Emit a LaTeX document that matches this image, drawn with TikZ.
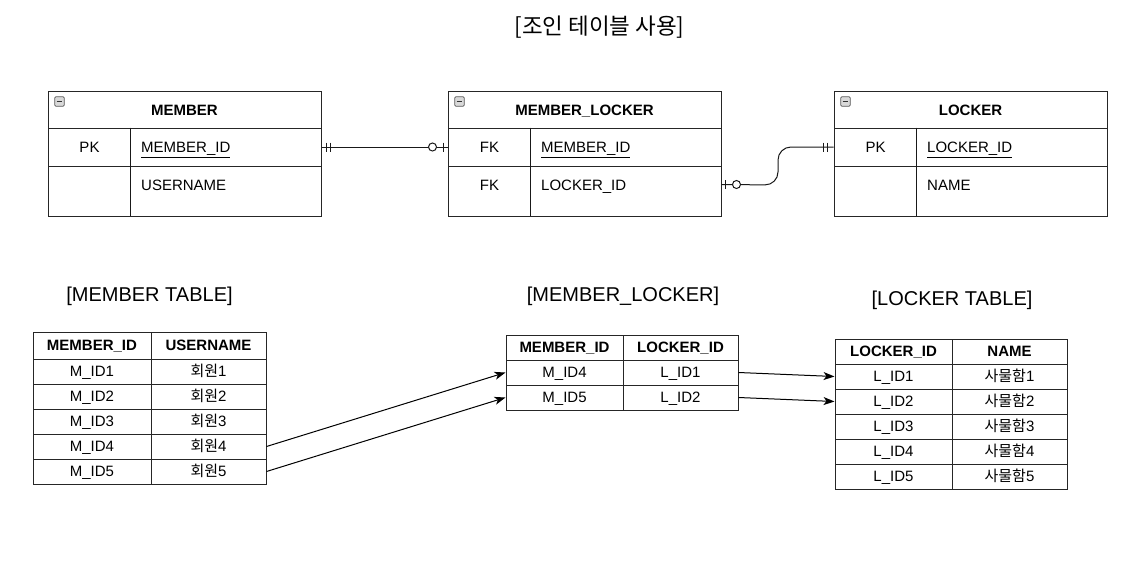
\documentclass[tikz,border=0pt]{standalone}
\usepackage{fontspec}
\setmainfont{Liberation Sans}
\newfontfamily\kr{Noto Sans CJK KR}
\usetikzlibrary{arrows.meta,calc}
\tikzset{
  erbox/.style={draw=black!85, line width=1pt, minimum width=273pt, inner sep=0pt},
  capc/.style={text height=12.7pt, text depth=2pt},
  ertxt/.style={inner sep=0pt, capc, font=\fontsize{15}{18}\selectfont},
  erhead/.style={inner sep=0pt, capc, font=\fontsize{15}{18}\selectfont\bfseries},
  cell/.style={draw=black!85, line width=1pt, inner sep=0pt, minimum height=25pt, capc, font=\fontsize{15}{18}\selectfont},
  hcell/.style={cell, font=\fontsize{15}{18}\selectfont\bfseries},
  ttl/.style={inner sep=0pt, text height=16.3pt, text depth=2pt, font=\fontsize{20}{24}\selectfont},
  conn/.style={draw=black!90, line width=1pt},
  mk/.style={draw=black!90, line width=1pt},
  ring/.style={draw=black!90, line width=1pt, fill=white},
  arr/.style={draw=black, line width=1pt, -{Stealth[length=11pt,width=8pt,inset=3pt]}},
  icon/.style={draw=gray!70!black, fill=gray!30, line width=0.7pt, rounded corners=1.2pt, minimum size=9.5pt, inner sep=0pt},
}
\begin{document}
\begin{tikzpicture}[x=1pt,y=-1pt]
\useasboundingbox (0,0) rectangle (1130,562);

% title
\node[inner sep=0pt, font=\fontsize{22.5}{26}\selectfont] (title) at (599.5,27) {\kr [조인 테이블 사용]};

% ---------- ER entities ----------
% MEMBER
\node[erbox, minimum height=37pt] (mh) at (184.5,109.5) {};
\node[erbox, minimum height=38pt] (mr1) at (184.5,147) {};
\node[erbox, minimum height=50pt] (mr2) at (184.5,191) {};
\draw[conn] (mr1.north west) ++(83,0) coordinate (mdv) -- ++(0,88);
\node[erhead] (mht) at (184.5,110) {MEMBER};
\node[icon] (mic) at (59.5,101.5) {};
\draw[gray!40!black, line width=1pt] ($(mic.center)+(-2.8,0)$) -- ($(mic.center)+(2.8,0)$);
\node[ertxt] (mpk) at (89.5,147) {PK};
\node[ertxt, anchor=west] (mid) at (141,147) {\underline{MEMBER\_ID}};
\node[ertxt, anchor=west] (mun) at (141,185) {USERNAME};

% MEMBER_LOCKER
\node[erbox, minimum height=37pt] (mlh) at (584.5,109.5) {};
\node[erbox, minimum height=38pt] (mlr1) at (584.5,147) {};
\node[erbox, minimum height=50pt] (mlr2) at (584.5,191) {};
\draw[conn] (mlr1.north west) ++(83,0) -- ++(0,88);
\node[erhead] (mlht) at (584.5,110) {MEMBER\_LOCKER};
\node[icon] (mlic) at (459.5,101.5) {};
\draw[gray!40!black, line width=1pt] ($(mlic.center)+(-2.8,0)$) -- ($(mlic.center)+(2.8,0)$);
\node[ertxt] (mlfk1) at (489.5,147) {FK};
\node[ertxt, anchor=west] (mlmid) at (541,147) {\underline{MEMBER\_ID}};
\node[ertxt] (mlfk2) at (489.5,185) {FK};
\node[ertxt, anchor=west] (mllid) at (541,185) {LOCKER\_ID};

% LOCKER
\node[erbox, minimum height=37pt] (lh) at (970.5,109.5) {};
\node[erbox, minimum height=38pt] (lr1) at (970.5,147) {};
\node[erbox, minimum height=50pt] (lr2) at (970.5,191) {};
\draw[conn] (lr1.north west) ++(83,0) -- ++(0,88);
\node[erhead] (lht) at (970.5,110) {LOCKER};
\node[icon] (lic) at (845.5,101.5) {};
\draw[gray!40!black, line width=1pt] ($(lic.center)+(-2.8,0)$) -- ($(lic.center)+(2.8,0)$);
\node[ertxt] (lpk) at (875.5,147) {PK};
\node[ertxt, anchor=west] (llid) at (927,147) {\underline{LOCKER\_ID}};
\node[ertxt, anchor=west] (lnm) at (927,185) {NAME};

% connector MEMBER -> MEMBER_LOCKER
\draw[conn] (mr1.east) -- (mlr1.west);
\draw[mk] ($(mr1.east)+(5,-4.5)$) -- ++(0,9);
\draw[mk] ($(mr1.east)+(9,-4.5)$) -- ++(0,9);
\draw[mk] ($(mlr1.west)+(-4,-4.5)$) -- ++(0,9);
\draw[ring] ($(mlr1.west)+(-15,0)$) circle (4);

% connector MEMBER_LOCKER -> LOCKER
\coordinate (mlr2e) at ($(mlr2.north east)+(0,19)$);
\draw[conn, rounded corners=13pt] (mlr2e) -- (778,185) -- (778,147) -- (lr1.west);
\draw[mk] ($(mlr2e)+(4,-4.5)$) -- ++(0,9);
\draw[ring] ($(mlr2e)+(15,0)$) circle (4);
\draw[mk] ($(lr1.west)+(-10,-4.5)$) -- ++(0,9);
\draw[mk] ($(lr1.west)+(-6,-4.5)$) -- ++(0,9);

% ---------- bottom titles ----------
\node[ttl] (t1) at (149.5,294) {[MEMBER TABLE]};
\node[ttl] (t2) at (623,294) {[MEMBER\_LOCKER]};
\node[ttl] (t3) at (952,298) {[LOCKER TABLE]};

% ---------- MEMBER TABLE ----------
\node[hcell, minimum width=118pt, minimum height=27pt] (mth1) at (92,345.5) {MEMBER\_ID};
\node[hcell, minimum width=115pt, minimum height=27pt] (mth2) at (208.5,345.5) {USERNAME};
\foreach \i in {1,...,5}{
  \node[cell, minimum width=118pt] (mt\i a) at (92,{346.5+25*\i}) {M\_ID\i};
  \node[cell, minimum width=115pt] (mt\i b) at (208.5,{346.5+25*\i}) {{\kr 회원}\i};
}

% ---------- MEMBER_LOCKER table ----------
\node[hcell, minimum width=117pt] (mlh1) at (564.5,347.5) {MEMBER\_ID};
\node[hcell, minimum width=115pt] (mlh2) at (680.5,347.5) {LOCKER\_ID};
\node[cell, minimum width=117pt] (ml1a) at (564.5,372.5) {M\_ID4};
\node[cell, minimum width=115pt] (ml1b) at (680.5,372.5) {L\_ID1};
\node[cell, minimum width=117pt] (ml2a) at (564.5,397.5) {M\_ID5};
\node[cell, minimum width=115pt] (ml2b) at (680.5,397.5) {L\_ID2};

% ---------- LOCKER TABLE ----------
\node[hcell, minimum width=117pt] (lth1) at (893.5,351.5) {LOCKER\_ID};
\node[hcell, minimum width=115pt] (lth2) at (1009.5,351.5) {NAME};
\foreach \i in {1,...,5}{
  \node[cell, minimum width=117pt] (lt\i a) at (893.5,{351.5+25*\i}) {L\_ID\i};
  \node[cell, minimum width=115pt] (lt\i b) at (1009.5,{351.5+25*\i}) {{\kr 사물함}\i};
}

% ---------- arrows ----------
\draw[arr] (mt4b.east) -- (ml1a.west);
\draw[arr] (mt5b.east) -- (ml2a.west);
\draw[arr] (ml1b.east) -- (lt1a.west);
\draw[arr] (ml2b.east) -- (lt2a.west);
\end{tikzpicture}
\end{document}
